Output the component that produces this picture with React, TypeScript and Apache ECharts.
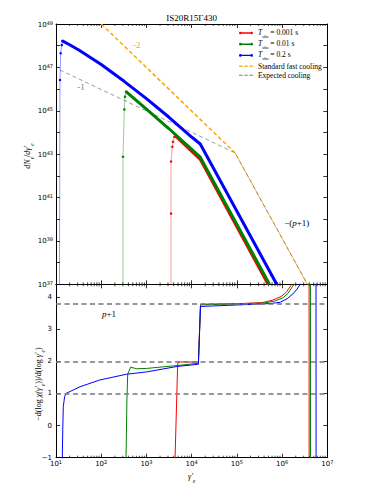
import React, { useEffect, useRef } from 'react';
import * as echarts from 'echarts';

// ---------- data ----------
// Top panel: dN_e/dγ'_e  vs γ'_e   [γ'_e, dN/dγ]
const redRise = [[3500, 1e36], [3500, 1.82e40], [3500, 4.57e42], [3740, 2.19e43], [3870, 3.72e43], [4140, 6.31e43], [4450, 6.76e43]];
const redMain = [[4450, 6.76e43], [15500, 5.75e42], [4.9e5, 1e37]];
const greenRise = [[303, 1e36], [303, 7.6e42], [324, 1.15e45], [336, 4.47e45], [354, 7.59e45]];
const greenMain = [[354, 7.59e45], [1000, 1.2e45], [3160, 1.48e44], [15500, 7.24e42], [5.25e5, 1e37]];
const blueRise = [[11.9, 1e36], [12.25, 2.63e46], [12.7, 4.47e47], [13.4, 1.07e48], [13.8, 1.66e48]];
const blueMain = [[13.8, 1.66e48], [20, 1.1e48], [32, 6.31e47], [100, 1.35e47], [316, 2.34e46], [1000, 3.63e45], [3160, 5.01e44], [10000, 6.17e43], [15500, 2.95e43], [7.6e5, 1e37]];
const stdFast = [[100, 1e49], [91200, 1.15e43]];
const stdFastTail = [[91200, 1.15e43], [3.63e6, 1e37]];
const expected = [[12.2, 7.6e46], [91200, 1.15e43], [3.63e6, 1e37]];

// Bottom panel: local slope  [γ'_e, -dlogχ/dlogγ]
const redSlope = [[4250, -3], [4300, -1], [4900, 1.9], [5100, 1.98], [14100, 1.98], [15700, 3.78], [1.17e5, 3.8], [3.63e5, 3.83], [6.0e5, 3.9], [9.5e5, 4.02], [1.23e6, 4.15], [1.64e6, 4.4], [1.8e6, 8], [3.95e6, 8], [3.97e6, -3]];
const greenSlope = [[350, -3], [354, -1], [370, 0.8], [385, 1.6], [447, 1.82], [610, 1.77], [1000, 1.78], [4000, 1.86], [14100, 1.94], [15700, 3.76], [1.17e5, 3.79], [4.17e5, 3.82], [6.9e5, 3.88], [1.05e6, 3.98], [1.35e6, 4.12], [1.84e6, 4.4], [2.0e6, 8], [4.23e6, 8], [4.25e6, -3]];
const blueSlope = [[13.7, -3], [13.8, -1], [14.1, -0.13], [14.5, 0.59], [15.5, 0.9], [16.6, 1.0], [34, 1.21], [93, 1.42], [363, 1.6], [1000, 1.67], [4700, 1.84], [14100, 1.91], [15700, 3.71], [1.17e5, 3.76], [5.4e5, 3.8], [9.1e5, 3.84], [1.29e6, 3.95], [1.74e6, 4.1], [2.14e6, 4.25], [2.51e6, 4.4], [2.82e6, 8], [5.62e6, 8], [5.65e6, -3]];
const refLevels = [1, 2, 3.8];

// axes / ticks
const xMin = 10;
const xMax = 1e7;
const topExpMin = 37;
const topExpMax = 49;
const botMin = -1;
const botMax = 4.4;
const decades = [10, 100, 1000, 1e4, 1e5, 1e6];
const minorMultipliers = [2, 3, 4, 5, 6, 7, 8, 9];

const legendNames = ['T_obs = 0.001 s', 'T_obs = 0.01 s', 'T_obs = 0.2 s', 'Standard fast cooling', 'Expected cooling'];

const SANS = 'DejaVu Sans';
const SERIF = 'Liberation Serif';
const RED = '#ff0000';
const GREEN = '#008000';
const BLUE = '#0000ff';
const ORANGE = '#ffa500';
const GRAY = '#808080';

const minorTicks: number[] = [];
decades.forEach((d) => minorMultipliers.forEach((m) => minorTicks.push(d * m)));

const supRich = {
  b: { fontFamily: SANS, fontSize: 7, lineHeight: 8, padding: [4, 0, 0, 0], verticalAlign: 'bottom', color: '#000' },
  sup: { fontFamily: SANS, fontSize: 5, lineHeight: 6, verticalAlign: 'top', color: '#000' },
};

const serifRich = {
  i: { fontFamily: SERIF, fontStyle: 'italic', fontSize: 8, lineHeight: 9, verticalAlign: 'top' },
  n: { fontFamily: SERIF, fontSize: 8, lineHeight: 9, verticalAlign: 'top' },
  sub: { fontFamily: SERIF, fontStyle: 'italic', fontSize: 5.5, lineHeight: 6, padding: [5, 0, 0, 0], verticalAlign: 'top' },
};

const legendRich = {
  i: { fontFamily: SERIF, fontStyle: 'italic', fontSize: 7.5, lineHeight: 9, verticalAlign: 'top', color: '#000' },
  n: { fontFamily: SERIF, fontSize: 7.5, lineHeight: 9, verticalAlign: 'top', color: '#000' },
  p: { fontFamily: SERIF, fontSize: 7.5, lineHeight: 11, verticalAlign: 'middle', color: '#000' },
  subn: { fontFamily: SERIF, fontSize: 4.5, lineHeight: 6, padding: [5, 0, 0, 0], verticalAlign: 'top', color: '#000' },
};

const iconMarkerLine =
  'path://M1.5,1.8H12.5V3.2H1.5Z M0.2,2.5A1.3,1.3 0 1,1 2.8,2.5A1.3,1.3 0 1,1 0.2,2.5Z M11.2,2.5A1.3,1.3 0 1,1 13.8,2.5A1.3,1.3 0 1,1 11.2,2.5Z';
const iconDashThick = 'path://M0,0H3.6V1.4H0Z M5.2,0H8.8V1.4H5.2Z M10.4,0H14V1.4H10.4Z';
const iconDashThin = 'path://M0,0H3.6V0.9H0Z M5.2,0H8.8V0.9H5.2Z M10.4,0H14V0.9H10.4Z';

function expLabel(v: number) {
  const e = Math.round(Math.log10(v));
  return `{b|10}{sup|${e}}`;
}

function legendFormatter(name: string) {
  if (name.startsWith('T_obs')) {
    return `{i|T}{subn|obs}{n|${name.slice(5)}}`;
  }
  return `{p|${name}}`;
}

function minorTickSeries(xi: number, yi: number, yRef: number) {
  return {
    type: 'custom',
    xAxisIndex: xi,
    yAxisIndex: yi,
    silent: true,
    clip: false,
    data: minorTicks.map((v) => [v, yRef]),
    renderItem: (params: any, api: any) => {
      const x = api.coord([api.value(0), api.value(1)])[0];
      const cs = params.coordSys;
      const st = { stroke: '#000', lineWidth: 0.7 };
      return {
        type: 'group',
        children: [
          { type: 'line', shape: { x1: x, y1: cs.y + cs.height, x2: x, y2: cs.y + cs.height - 2 }, style: st },
          { type: 'line', shape: { x1: x, y1: cs.y, x2: x, y2: cs.y + 2 }, style: st },
        ],
      };
    },
  };
}

const axisLineBlack = { show: true, onZero: false, lineStyle: { color: '#000', width: 1 } };
const tickIn = { show: true, inside: true, length: 4, lineStyle: { color: '#000', width: 0.8 } };

function buildOption() {
  const riseSeries = (name: string, data: number[][], color: string) => ({
    name,
    type: 'line',
    xAxisIndex: 0,
    yAxisIndex: 0,
    data,
    symbol: 'circle',
    symbolSize: 2.5,
    showSymbol: true,
    itemStyle: { color },
    lineStyle: { color, width: 1, opacity: 0.4 },
    z: 3,
  });
  const mainSeries = (name: string, data: number[][], color: string) => ({
    name,
    type: 'line',
    xAxisIndex: 0,
    yAxisIndex: 0,
    data,
    symbol: 'circle',
    symbolSize: 3,
    showSymbol: false,
    itemStyle: { color },
    lineStyle: { color, width: 3 },
    z: 4,
  });
  const slopeSeries = (name: string, data: number[][], color: string, extra: any = {}) => ({
    name,
    type: 'line',
    xAxisIndex: 2,
    yAxisIndex: 3,
    data,
    symbol: 'none',
    lineStyle: { color, width: 1 },
    z: 4,
    ...extra,
  });

  return {
    animation: false,
    backgroundColor: '#fff',
    grid: [
      { left: 56, top: 24, width: 271.3, height: 260.3 },
      { left: 56, top: 284.3, width: 271.3, height: 173.4 },
    ],
    xAxis: [
      { type: 'log', logBase: 10, gridIndex: 0, position: 'bottom', min: xMin, max: xMax, axisLine: axisLineBlack, axisTick: tickIn, axisLabel: { show: false }, splitLine: { show: false } },
      { type: 'log', logBase: 10, gridIndex: 0, position: 'top', min: xMin, max: xMax, axisLine: axisLineBlack, axisTick: tickIn, axisLabel: { show: false }, splitLine: { show: false } },
      {
        type: 'log', logBase: 10, gridIndex: 1, position: 'bottom', min: xMin, max: xMax, axisLine: axisLineBlack, axisTick: tickIn, splitLine: { show: false },
        axisLabel: { show: true, margin: 2, formatter: expLabel, rich: supRich, showMinLabel: true, showMaxLabel: true },
      },
      { type: 'log', logBase: 10, gridIndex: 1, position: 'top', min: xMin, max: xMax, axisLine: axisLineBlack, axisTick: tickIn, axisLabel: { show: false }, splitLine: { show: false } },
    ],
    yAxis: [
      { type: 'log', logBase: 10, gridIndex: 0, position: 'left', min: Math.pow(10, topExpMin), max: Math.pow(10, topExpMax), axisLine: { show: false, onZero: false }, axisTick: { show: false }, axisLabel: { show: false }, splitLine: { show: false } },
      {
        type: 'value', gridIndex: 0, position: 'left', min: topExpMin, max: topExpMax, interval: 1, axisLine: axisLineBlack, axisTick: tickIn, splitLine: { show: false },
        axisLabel: { show: true, margin: 3, rich: supRich, formatter: (v: number) => (Math.abs(v % 2) === 1 ? `{b|10}{sup|${v}}` : '') },
      },
      { type: 'value', gridIndex: 0, position: 'right', min: topExpMin, max: topExpMax, interval: 1, axisLine: axisLineBlack, axisTick: tickIn, axisLabel: { show: false }, splitLine: { show: false } },
      {
        type: 'value', gridIndex: 1, position: 'left', min: botMin, max: botMax, interval: 1, axisLine: axisLineBlack, axisTick: tickIn, splitLine: { show: false },
        axisLabel: {
          show: true, margin: 4, fontFamily: SANS, fontSize: 7, color: '#000',
          formatter: (v: number) => (Number.isInteger(v) ? (v < 0 ? '\u2212' + -v : String(v)) : ''),
        },
      },
      { type: 'value', gridIndex: 1, position: 'right', min: botMin, max: botMax, interval: 1, axisLine: axisLineBlack, axisTick: tickIn, axisLabel: { show: false }, splitLine: { show: false } },
    ],
    legend: {
      orient: 'vertical',
      left: 239,
      top: 28.5,
      padding: 0,
      itemWidth: 14,
      itemHeight: 5,
      itemGap: 1.2,
      selectedMode: false,
      data: [
        { name: legendNames[0], icon: iconMarkerLine },
        { name: legendNames[1], icon: iconMarkerLine },
        { name: legendNames[2], icon: iconMarkerLine },
        { name: legendNames[3], icon: iconDashThick },
        { name: legendNames[4], icon: iconDashThin },
      ],
      formatter: legendFormatter,
      textStyle: { fontFamily: SERIF, fontSize: 7.5, color: '#000', rich: legendRich },
    },
    graphic: [
      { type: 'text', x: 191.7, y: 18, style: { text: 'IS20R15\u0393430', font: `9px "${SERIF}"`, fill: '#000', align: 'center', verticalAlign: 'middle' } },
      {
        type: 'text', x: 28, y: 156, rotation: Math.PI / 2,
        style: { text: '{i|dN}{sub|e}{n|/}{i|d\u03b3\u2032}{sub|e}', rich: serifRich, fill: '#000', align: 'center', verticalAlign: 'middle' },
      },
      {
        type: 'text', x: 39, y: 384, rotation: Math.PI / 2,
        style: { text: '{n|\u2212d(log }{i|\u03c7(\u03b3\u2032}{sub|e}{n|))/d(log }{i|\u03b3\u2032}{sub|e}{n|)}', rich: serifRich, fill: '#000', align: 'center', verticalAlign: 'middle' },
      },
      { type: 'text', x: 191.7, y: 477, style: { text: '{i|\u03b3\u2032}{sub|e}', rich: serifRich, fill: '#000', align: 'center', verticalAlign: 'middle' } },
      { type: 'text', x: 136.7, y: 45, style: { text: '-2', font: `9px "${SERIF}"`, fill: ORANGE, align: 'center', verticalAlign: 'middle' } },
      { type: 'text', x: 81, y: 87.3, style: { text: '-1', font: `9px "${SERIF}"`, fill: GRAY, align: 'center', verticalAlign: 'middle' } },
      {
        type: 'text', x: 296.7, y: 223.3,
        style: { text: '{n|\u2212(}{i|p}{n|+1)}', rich: { n: { fontFamily: SERIF, fontSize: 9, color: ORANGE }, i: { fontFamily: SERIF, fontStyle: 'italic', fontSize: 9, color: ORANGE } }, align: 'center', verticalAlign: 'middle' },
      },
      {
        type: 'text', x: 109, y: 314,
        style: { text: '{i|p}{n|+1}', rich: { n: { fontFamily: SERIF, fontSize: 9, color: ORANGE }, i: { fontFamily: SERIF, fontStyle: 'italic', fontSize: 9, color: ORANGE } }, align: 'center', verticalAlign: 'middle' },
      },
    ],
    series: [
      riseSeries('redRise', redRise, RED),
      mainSeries(legendNames[0], redMain, RED),
      riseSeries('greenRise', greenRise, GREEN),
      mainSeries(legendNames[1], greenMain, GREEN),
      riseSeries('blueRise', blueRise, BLUE),
      mainSeries(legendNames[2], blueMain, BLUE),
      {
        name: legendNames[3], type: 'line', xAxisIndex: 0, yAxisIndex: 0, data: stdFast, symbol: 'none',
        lineStyle: { color: ORANGE, width: 1.5, type: [4, 2.5] }, itemStyle: { color: ORANGE }, z: 2,
      },
      {
        name: 'stdTail', type: 'line', xAxisIndex: 0, yAxisIndex: 0, data: stdFastTail, symbol: 'none',
        lineStyle: { color: ORANGE, width: 0.8 }, z: 2,
      },
      {
        name: legendNames[4], type: 'line', xAxisIndex: 0, yAxisIndex: 0, data: expected, symbol: 'none',
        lineStyle: { color: GRAY, width: 0.8, type: [4, 3] }, itemStyle: { color: GRAY }, z: 2,
      },
      slopeSeries('redSlope', redSlope, RED, {
        markLine: {
          silent: true, symbol: 'none', label: { show: false },
          lineStyle: { color: '#777', width: 1.5, type: [5, 3.5] },
          data: refLevels.map((v) => ({ yAxis: v })),
        },
      }),
      slopeSeries('greenSlope', greenSlope, GREEN),
      slopeSeries('blueSlope', blueSlope, BLUE),
      minorTickSeries(0, 0, 1e40),
      minorTickSeries(2, 3, 0),
    ],
  };
}

export default function App() {
  const ref = useRef<HTMLDivElement>(null);
  useEffect(() => {
    if (!ref.current) return;
    const chart = echarts.init(ref.current, null, { renderer: 'svg' });
    chart.setOption(buildOption() as any);
    return () => chart.dispose();
  }, []);
  return <div ref={ref} style={{ position: 'fixed', left: 0, top: 0, width: 374, height: 498, background: '#fff' }} />;
}
